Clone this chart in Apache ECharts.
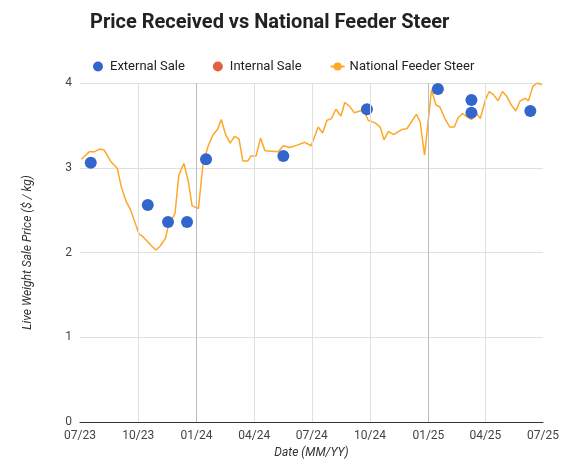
<!DOCTYPE html>
<html>
<head>
<meta charset="utf-8">
<title>Price Received vs National Feeder Steer</title>
<style>
  * { margin: 0; padding: 0; }
  body { background: #fff; }
  #chart { width: 572px; height: 470px; }
</style>
</head>
<body>
<div id="chart"></div>
<script src="https://cdn.jsdelivr.net/npm/echarts@6/dist/echarts.min.js"></script>
<script>
// external sales (date, $/kg)
const externalDates = ['2023-07-18', '2023-10-16', '2023-11-17', '2023-12-17', '2024-01-16', '2024-05-17',
  '2024-09-26', '2025-01-16', '2025-03-10', '2025-03-10', '2025-06-11'];
const externalPrices = [3.06, 2.56, 2.36, 2.36, 3.10, 3.14, 3.69, 3.93, 3.80, 3.65, 3.67];

// internal sales: none in this period
const internalDates = [];
const internalPrices = [];

// national feeder steer indicator
const nfsDates = ['2023-07-03', '2023-07-16', '2023-07-24', '2023-08-01', '2023-08-08', '2023-08-19', '2023-08-29',
  '2023-09-04', '2023-09-12', '2023-09-19', '2023-10-02', '2023-10-08', '2023-10-23', '2023-10-29', '2023-11-05',
  '2023-11-13', '2023-11-17', '2023-11-28', '2023-12-04', '2023-12-12', '2023-12-19', '2023-12-25', '2024-01-04',
  '2024-01-11', '2024-01-19', '2024-01-27', '2024-02-03', '2024-02-09', '2024-02-16', '2024-02-23', '2024-03-01',
  '2024-03-08', '2024-03-14', '2024-03-22', '2024-03-27', '2024-04-04', '2024-04-11', '2024-04-18', '2024-05-09',
  '2024-05-17', '2024-05-27', '2024-06-09', '2024-06-20', '2024-06-30', '2024-07-03', '2024-07-11', '2024-07-18',
  '2024-07-25', '2024-08-01', '2024-08-08', '2024-08-16', '2024-08-22', '2024-08-29', '2024-09-06', '2024-09-15',
  '2024-09-21', '2024-09-28', '2024-10-09', '2024-10-17', '2024-10-23', '2024-10-30', '2024-11-07', '2024-11-20',
  '2024-11-28', '2024-12-13', '2024-12-19', '2024-12-26', '2025-01-06', '2025-01-13', '2025-01-19', '2025-01-27',
  '2025-02-04', '2025-02-11', '2025-02-17', '2025-02-24', '2025-03-03', '2025-03-10', '2025-03-18', '2025-03-24',
  '2025-04-01', '2025-04-07', '2025-04-14', '2025-04-21', '2025-04-28', '2025-05-05', '2025-05-12', '2025-05-19',
  '2025-05-26', '2025-06-03', '2025-06-08', '2025-06-15', '2025-06-22', '2025-06-29'];
const nfsPrices = [3.10, 3.19, 3.19, 3.22, 3.21, 3.07, 2.99,
  2.78, 2.60, 2.50, 2.22, 2.19, 2.07, 2.03, 2.08,
  2.17, 2.30, 2.46, 2.91, 3.05, 2.84, 2.55, 2.52,
  3.03, 3.25, 3.39, 3.45, 3.57, 3.39, 3.29, 3.37,
  3.34, 3.08, 3.08, 3.14, 3.14, 3.35, 3.20, 3.19,
  3.26, 3.24, 3.27, 3.30, 3.26, 3.26, 3.48, 3.41,
  3.56, 3.58, 3.69, 3.61, 3.77, 3.73, 3.65, 3.67,
  3.68, 3.56, 3.53, 3.48, 3.33, 3.43, 3.39, 3.45,
  3.46, 3.63, 3.54, 3.15, 3.92, 3.74, 3.72, 3.58,
  3.48, 3.48, 3.59, 3.64, 3.60, 3.57, 3.64, 3.58,
  3.80, 3.90, 3.86, 3.79, 3.90, 3.84, 3.74, 3.67,
  3.79, 3.82, 3.79, 3.96, 4.00, 3.98];

// quarter ticks on the x axis
const quarterTicks = ['2023-07-01', '2023-10-01', '2024-01-01', '2024-04-01', '2024-07-01',
  '2024-10-01', '2025-01-01', '2025-04-01', '2025-07-01'];
const yearTicks = ['2024-01-01', '2025-01-01'];

const zip = (a, b) => a.map((d, i) => [d, b[i]]);
const ts = d => new Date(d + 'T00:00:00').getTime();
const fmt = v => {
  const d = new Date(v);
  return String(d.getMonth() + 1).padStart(2, '0') + '/' + String(d.getFullYear()).slice(2);
};

const chart = echarts.init(document.getElementById('chart'));
chart.setOption({
  animation: false,
  textStyle: { fontFamily: 'Roboto, Arial, sans-serif' },
  title: {
    text: 'Price Received vs National Feeder Steer',
    left: 85, top: 8,
    textStyle: { fontSize: 20, fontWeight: 'bold', color: '#222' }
  },
  legend: {
    top: 55, left: 88, itemGap: 28,
    textStyle: { fontSize: 13, color: '#222' },
    data: [
      { name: 'External Sale', icon: 'circle' },
      { name: 'Internal Sale', icon: 'circle' },
      { name: 'National Feeder Steer' }
    ],
    itemWidth: 14, itemHeight: 10
  },
  grid: { left: 80, right: 29, top: 83, bottom: 48 },
  xAxis: {
    type: 'value',
    min: ts('2023-07-01'), max: ts('2025-07-01'),
    name: 'Date (MM/YY)', nameLocation: 'middle', nameGap: 24,
    nameTextStyle: { fontStyle: 'italic', fontSize: 12, color: '#333' },
    axisLine: { show: true, lineStyle: { color: '#333' } },
    axisTick: { show: false },
    splitLine: { show: false },
    axisLabel: {
      customValues: quarterTicks.map(ts),
      formatter: fmt, color: '#444', fontSize: 12
    }
  },
  yAxis: {
    type: 'value', min: 0, max: 4, interval: 1,
    name: 'Live Weight Sale Price ($ / kg)', nameLocation: 'middle', nameGap: 46,
    nameTextStyle: { fontStyle: 'italic', fontSize: 12, color: '#333' },
    axisLine: { show: false },
    axisTick: { show: false },
    splitLine: { lineStyle: { color: '#e0e0e0' } },
    axisLabel: { color: '#444', fontSize: 12 }
  },
  series: [
    {
      name: 'National Feeder Steer', type: 'line', z: 2,
      data: zip(nfsDates.map(ts), nfsPrices),
      showSymbol: false, symbol: 'none',
      lineStyle: { color: '#ffa726', width: 1.5 }, itemStyle: { color: '#ffa726' },
      markLine: {
        silent: true, symbol: 'none', label: { show: false },
        data: quarterTicks.slice(1, -1).map(d => ({
          xAxis: ts(d),
          lineStyle: { type: 'solid', width: 1, color: yearTicks.includes(d) ? '#bdbdbd' : '#e0e0e0' }
        }))
      }
    },
    {
      name: 'External Sale', type: 'scatter', z: 3,
      data: zip(externalDates.map(ts), externalPrices),
      symbolSize: 12, itemStyle: { color: '#3366cc', opacity: 1 }
    },
    {
      name: 'Internal Sale', type: 'scatter', z: 3,
      data: zip(internalDates.map(ts), internalPrices),
      symbolSize: 12, itemStyle: { color: '#dc3912' }
    }
  ]
});
</script>
</body>
</html>
